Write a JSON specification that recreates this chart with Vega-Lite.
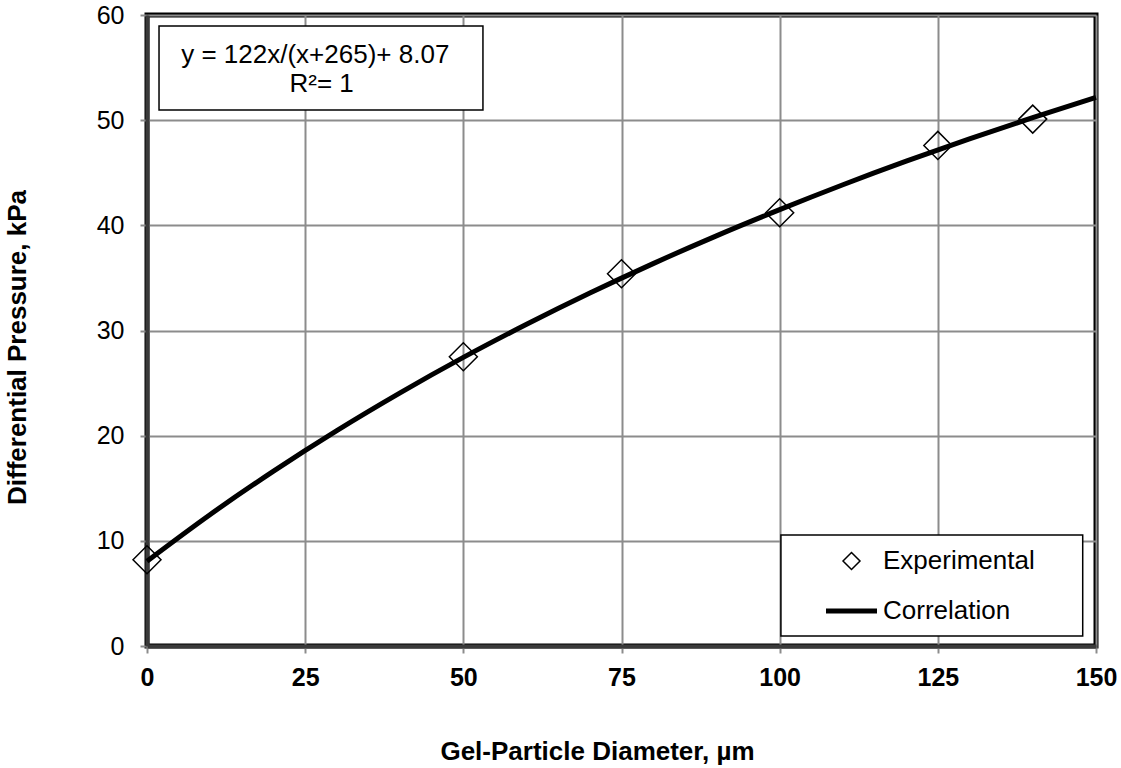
{
  "$schema": "https://vega.github.io/schema/vega-lite/v6.json",
  "width": 949,
  "height": 631,
  "autosize": {"type": "none"},
  "padding": {"left": 147, "top": 15, "right": 25, "bottom": 122},
  "background": "white",
  "config": {
    "font": "Liberation Sans",
    "view": {"stroke": "black", "strokeWidth": 5},
    "axis": {
      "gridColor": "#8c8c8c", "gridWidth": 2, "gridOpacity": 1,
      "tickColor": "#8c8c8c", "tickWidth": 2, "tickSize": 7,
      "domainColor": "#3a3a3a", "domainWidth": 4,
      "labelColor": "black", "titleColor": "black",
      "labelFont": "Liberation Sans", "titleFont": "Liberation Sans"
    }
  },
  "datasets": {
    "experimental": [
      {"diameter": 0, "pressure": 8.2, "series": "Experimental"},
      {"diameter": 50, "pressure": 27.5, "series": "Experimental"},
      {"diameter": 75, "pressure": 35.4, "series": "Experimental"},
      {"diameter": 100, "pressure": 41.2, "series": "Experimental"},
      {"diameter": 125, "pressure": 47.6, "series": "Experimental"},
      {"diameter": 140, "pressure": 50.1, "series": "Experimental"}
    ],
    "correlation": [
      {"diameter": 0, "pressure": 8.07},
      {"diameter": 10, "pressure": 12.51},
      {"diameter": 20, "pressure": 16.63},
      {"diameter": 30, "pressure": 20.48},
      {"diameter": 40, "pressure": 24.07},
      {"diameter": 50, "pressure": 27.44},
      {"diameter": 60, "pressure": 30.59},
      {"diameter": 70, "pressure": 33.56},
      {"diameter": 80, "pressure": 36.36},
      {"diameter": 90, "pressure": 39.0},
      {"diameter": 100, "pressure": 41.49},
      {"diameter": 110, "pressure": 43.86},
      {"diameter": 120, "pressure": 46.1},
      {"diameter": 130, "pressure": 48.22},
      {"diameter": 140, "pressure": 50.24},
      {"diameter": 150, "pressure": 52.17}
    ],
    "notes": [
      {"line1": "y = 122x/(x+265)+ 8.07", "line2": "R²= 1"}
    ]
  },
  "layer": [
    {
      "data": {"name": "correlation"},
      "mark": {"type": "line", "color": "black", "strokeWidth": 5, "interpolate": "monotone"},
      "encoding": {
        "x": {
          "field": "diameter", "type": "quantitative",
          "scale": {"domain": [0, 150], "nice": false},
          "axis": {
            "values": [0, 25, 50, 75, 100, 125, 150],
            "grid": true,
            "labelFontSize": 25, "labelFontWeight": "bold", "labelPadding": 12,
            "labelFlush": false,
            "title": "Gel-Particle Diameter, µm",
            "titleFontSize": 26, "titleFontWeight": "bold",
            "titlePadding": 48, "titleX": 450
          }
        },
        "y": {
          "field": "pressure", "type": "quantitative",
          "scale": {"domain": [0, 60], "nice": false},
          "axis": {
            "values": [0, 10, 20, 30, 40, 50, 60],
            "grid": true,
            "labelFontSize": 25, "labelFontWeight": "normal", "labelPadding": 16,
            "labelFlush": false,
            "title": "Differential Pressure, kPa",
            "titleFontSize": 26, "titleFontWeight": "bold",
            "titlePadding": 66, "titleY": 332
          }
        }
      }
    },
    {
      "data": {"name": "experimental"},
      "mark": {"type": "point", "filled": false, "color": "black", "size": 784, "strokeWidth": 1.5, "opacity": 1},
      "encoding": {
        "x": {"field": "diameter", "type": "quantitative"},
        "y": {"field": "pressure", "type": "quantitative"},
        "shape": {
          "field": "series", "type": "nominal",
          "scale": {
            "domain": ["Experimental", "Correlation"],
            "range": ["diamond", "M-3,-0.2L3,-0.2M-3,-0.1L3,-0.1M-3,0L3,0M-3,0.1L3,0.1M-3,0.2L3,0.2"]
          },
          "legend": {
            "title": null,
            "orient": "none",
            "legendX": 691.5,
            "legendY": 533,
            "padding": 0,
            "symbolSize": 289,
            "symbolStrokeWidth": 1.5,
            "symbolStrokeColor": "black",
            "symbolFillColor": "transparent",
            "symbolOpacity": 1,
            "labelFont": "Liberation Sans",
            "labelFontSize": 26,
            "labelColor": "black",
            "labelOffset": 18.5,
            "rowPadding": 24
          }
        }
      }
    },
    {
      "data": {"name": "notes"},
      "mark": {"type": "rect", "fill": "white", "stroke": "black", "strokeWidth": 1.5},
      "encoding": {
        "x": {"datum": 1.9, "type": "quantitative"},
        "x2": {"datum": 53.1},
        "y": {"datum": 58.95, "type": "quantitative"},
        "y2": {"datum": 50.97}
      }
    },
    {
      "data": {"name": "notes"},
      "mark": {"type": "text", "font": "Liberation Sans", "fontSize": 26, "color": "black", "align": "center", "baseline": "alphabetic"},
      "encoding": {
        "x": {"datum": 26.6, "type": "quantitative"},
        "y": {"datum": 55.43, "type": "quantitative"},
        "text": {"field": "line1"}
      }
    },
    {
      "data": {"name": "notes"},
      "mark": {"type": "text", "font": "Liberation Sans", "fontSize": 26, "color": "black", "align": "center", "baseline": "alphabetic"},
      "encoding": {
        "x": {"datum": 27.6, "type": "quantitative"},
        "y": {"datum": 52.68, "type": "quantitative"},
        "text": {"field": "line2"}
      }
    },
    {
      "data": {"name": "notes"},
      "mark": {"type": "rect", "fill": "white", "stroke": "black", "strokeWidth": 1.5},
      "encoding": {
        "x": {"datum": 100.2, "type": "quantitative"},
        "x2": {"datum": 147.9},
        "y": {"datum": 10.55, "type": "quantitative"},
        "y2": {"datum": 0.95}
      }
    }
  ]
}
